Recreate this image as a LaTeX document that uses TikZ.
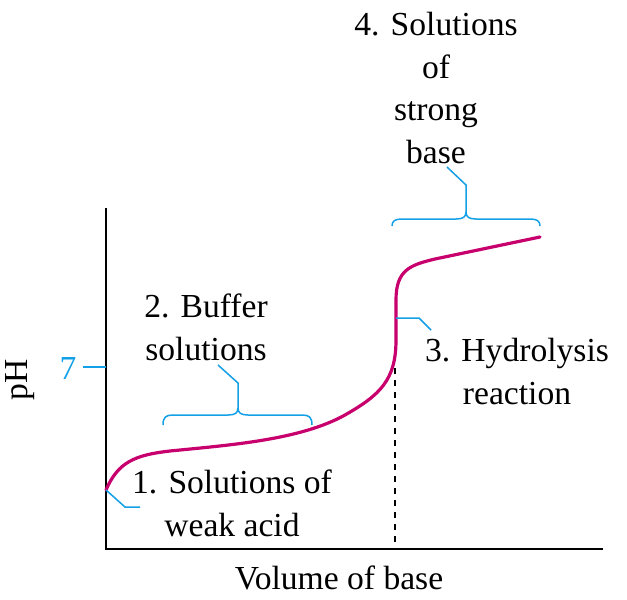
\documentclass[tikz,border=0pt]{standalone}
\usepackage{fontspec}
\setmainfont{Liberation Serif}
\newfontfamily\timesx{Liberation Serif}
\begin{document}
\begin{tikzpicture}[x=0.5pt,y=-0.5pt,
  lbl/.style={align=center,inner sep=0pt,font=\timesx\fontsize{16.8}{21.2}\selectfont},
  blueline/.style={draw=cyanb,line width=0.75pt},
  axisline/.style={draw=black,line width=0.8pt},
  curveline/.style={draw=magc,line width=1.6pt}]
\definecolor{cyanb}{RGB}{20,160,230}
\definecolor{magc}{RGB}{200,0,110}
\useasboundingbox (0,0) rectangle (627,600);
% axes
\coordinate (ytop) at (106,208);
\coordinate (orig) at (106,549);
\coordinate (xend) at (603,549);
\draw[axisline] (ytop) -- (orig) -- (xend);
% tick 7
\coordinate (t7a) at (83,367);
\coordinate (t7b) at (106,367);
\draw[blueline] (t7a) -- (t7b);
\node[lbl,text=cyanb] (seven) at (68,368) {7};
% axis labels
\node[lbl,rotate=90] (ph) at (20,380) {pH};
\node[lbl,anchor=base] (vol) at (339,589) {Volume of base};
% dashed line
\coordinate (dtop) at (395,368);
\coordinate (dbot) at (395,549);
\draw[dashed,line width=0.6pt] (dtop) -- (dbot);
% curve
\coordinate (c0) at (106,490);
\coordinate (c1) at (170,451);
\coordinate (c2) at (345,415);
\coordinate (c3) at (396,340);
\coordinate (c4) at (396,300);
\coordinate (c5) at (435,259);
\coordinate (c6) at (540,237);
\draw[curveline,line cap=round] (c0) .. controls (118,462) and (135,455) .. (c1)
  .. controls (230,445) and (300,440) .. (c2)
  .. controls (380,395) and (396,380) .. (c3) -- (c4)
  .. controls (396,270) and (410,265) .. (c5) -- (c6);
% label 1 pointer
\coordinate (p1a) at (125,507);
\coordinate (p1b) at (140,507);
\draw[blueline] (c0) -- (p1a) -- (p1b);
\node[lbl] (l1) at (232,503.5) {1. Solutions of\\weak acid};
% label 2 brace
\coordinate (b2tip) at (218,365);
\draw[blueline] (163,425) .. controls (163,417) and (166,415) .. (173,415) -- (228,415)
  .. controls (235,415) and (238,413) .. (238,408) -- (238,383) -- (b2tip);
\draw[blueline] (238,408) .. controls (238,413) and (241,415) .. (248,415) -- (302,415)
  .. controls (309,415) and (312,417) .. (312,425);
\node[lbl] (l2) at (206,327.5) {2. Buffer\\solutions};
% label 3 pointer
\coordinate (p3a) at (396,318);
\coordinate (p3b) at (419,318);
\coordinate (p3c) at (431,330);
\draw[blueline] (p3a) -- (p3b) -- (p3c);
\node[lbl] (l3) at (517,371.5) {3. Hydrolysis\\reaction};
% label 4 brace
\coordinate (b4tip) at (447,167);
\draw[blueline] (392,226) .. controls (392,221) and (395,219) .. (402,219) -- (456,219)
  .. controls (463,219) and (466,217) .. (466,212) -- (466,185) -- (b4tip);
\draw[blueline] (466,212) .. controls (466,217) and (469,219) .. (476,219) -- (530,219)
  .. controls (537,219) and (540,221) .. (540,226);
\node[lbl] (l4) at (436,88) {4. Solutions\\of\\strong\\base};
\end{tikzpicture}
\end{document}
